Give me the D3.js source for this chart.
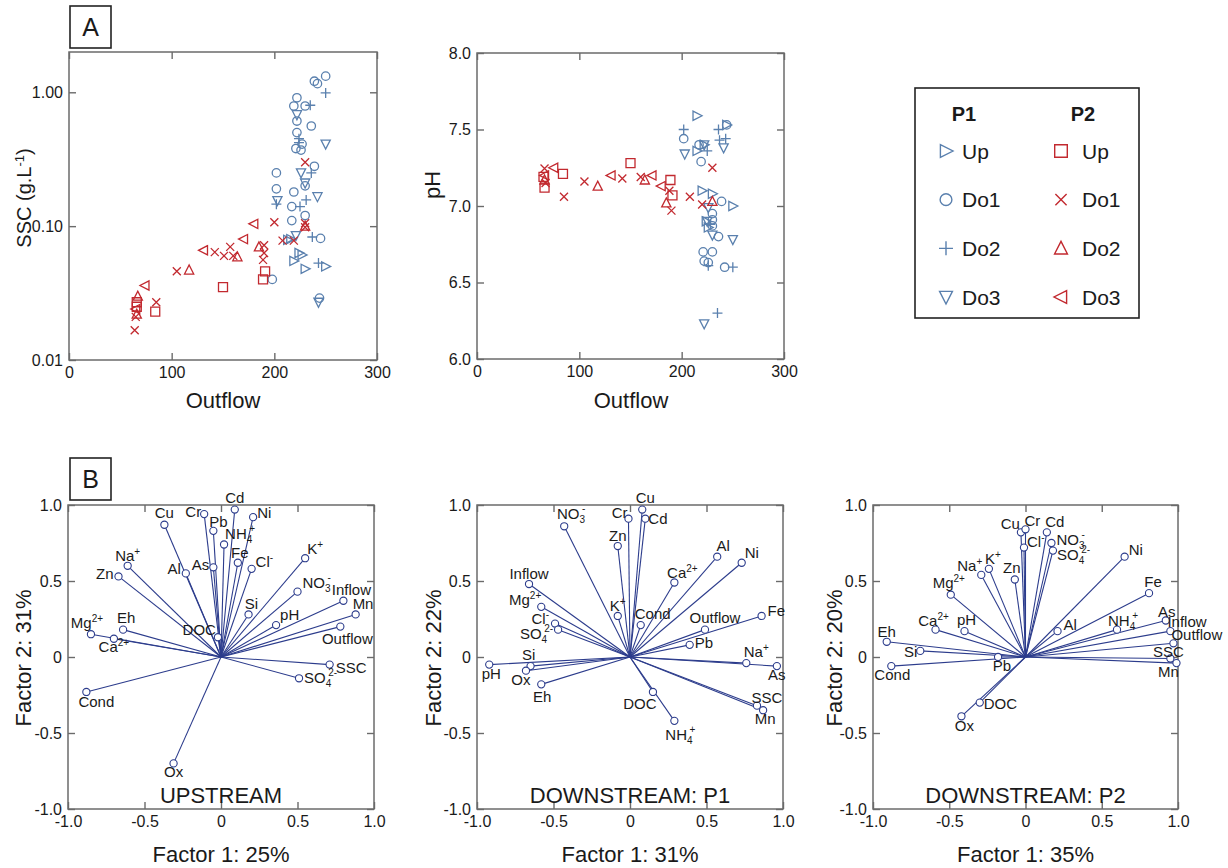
<!DOCTYPE html>
<html><head><meta charset="utf-8">
<script src="https://cdn.jsdelivr.net/npm/d3@7"></script>
<style>
body{margin:0;background:#fff}
svg{display:block}
text{font-family:"Liberation Sans",Arial,Helvetica,sans-serif;fill:#1a1a1a}
</style>
</head><body>
<svg id="chart" width="1228" height="868"></svg>
<script>
// ---------------- DATA ----------------
// Panel A, left: [Outflow, SSC (g/L)]
const p1UpSSC  = [[213,0.079],[216,0.080],[224,0.063],[227,0.061],[219,0.055],[230,0.048],[250,0.050]];
const p1Do1SSC = [[250,1.32],[239,1.21],[242,1.16],[222,0.91],[219,0.79],[230,0.79],[222,0.61],[236,0.56],[222,0.50],[221,0.38],[226,0.37],[227,0.41],[239,0.28],[202,0.25],[202,0.19],[219,0.18],[230,0.20],[217,0.14],[217,0.11],[230,0.12],[245,0.081],[198,0.040],[244,0.029]];
const p1Do2SSC = [[250,0.99],[235,0.80],[224,0.45],[224,0.42],[236,0.25],[231,0.157],[225,0.14],[202,0.146],[237,0.083],[243,0.053]];
const p1Do3SSC = [[222,0.68],[250,0.41],[226,0.25],[230,0.21],[242,0.166],[203,0.155],[221,0.085],[243,0.027]];
const p2UpSSC  = [[191,0.046],[189,0.040],[150,0.035],[84,0.023],[66,0.025],[66,0.027]];
const p2Do1SSC = [[200,0.107],[230,0.105],[230,0.098],[208,0.078],[219,0.078],[157,0.070],[142,0.064],[151,0.060],[160,0.060],[190,0.072],[190,0.063],[189,0.056],[105,0.046],[85,0.027],[65,0.021],[64,0.0167],[230,0.30]];
const p2Do2SSC = [[117,0.047],[164,0.059],[185,0.070],[67,0.030],[230,0.100],[66,0.022]];
const p2Do3SSC = [[180,0.104],[170,0.080],[131,0.066],[74,0.036],[65,0.024]];

// Panel A, middle: [Outflow, pH]
const p1UpPH  = [[215,7.59],[244,7.53],[215,7.36],[222,7.40],[220,7.10],[230,7.08],[250,7.00],[224,6.90],[226,6.86]];
const p1Do1PH = [[202,7.44],[217,7.40],[219,7.29],[244,7.53],[239,7.03],[230,6.95],[230,6.87],[236,6.80],[221,6.70],[230,6.70],[222,6.64],[226,6.63],[242,6.60],[230,6.91]];
const p1Do2PH = [[202,7.50],[236,7.50],[237,7.43],[243,7.44],[225,7.36],[250,6.60],[235,6.30],[226,6.61],[228,6.88]];
const p1Do3PH = [[203,7.34],[241,7.38],[222,7.40],[226,6.99],[225,6.90],[230,6.81],[250,6.78],[222,6.23]];
const p2UpPH  = [[84,7.21],[66,7.12],[150,7.28],[189,7.17],[191,7.07],[65,7.19]];
const p2Do1PH = [[66,7.245],[85,7.06],[105,7.16],[142,7.18],[160,7.19],[188,7.10],[190,6.97],[208,7.06],[220,7.01],[230,7.25],[67,7.15]];
const p2Do2PH = [[118,7.13],[164,7.17],[185,7.02],[230,7.03],[66,7.17]];
const p2Do3PH = [[75,7.25],[131,7.20],[171,7.20],[180,7.13],[66,7.20]];

// Panel B: factor loadings (name markup: _sub ^sup)
const upVars = ["Cd","Ni","Cr","Pb","NH_4^+","Cu","As","Fe","Cl^-","Al","Na^+","Zn","K^+","NO_3^-","Inflow","Mn","Outflow","Si","pH","DOC","Eh","Mg^2+","Ca^2+","SSC","SO_4^2-","Cond","Ox"];
const upF1   = [0.09,0.21,-0.11,-0.05,0.02,-0.37,-0.05,0.11,0.20,-0.23,-0.61,-0.67,0.55,0.50,0.80,0.88,0.78,0.18,0.36,-0.02,-0.64,-0.85,-0.70,0.71,0.51,-0.88,-0.31];
const upF2   = [0.97,0.92,0.94,0.83,0.74,0.87,0.59,0.62,0.58,0.55,0.60,0.53,0.65,0.43,0.37,0.28,0.20,0.28,0.21,0.13,0.18,0.15,0.12,-0.05,-0.14,-0.23,-0.70];

const p1Vars = ["Cu","Cr","Cd","NO_3^-","Zn","Al","Ni","Ca^2+","Inflow","Mg^2+","K^+","Fe","Cond","Cl^-","SO_4^2-","Outflow","Pb","Na^+","As","pH","Si","Ox","Eh","DOC","SSC","Mn","NH_4^+"];
const p1F1   = [0.08,-0.01,0.10,-0.43,-0.08,0.57,0.73,0.29,-0.66,-0.58,-0.08,0.86,0.07,-0.49,-0.47,0.49,0.39,0.76,0.96,-0.92,-0.65,-0.68,-0.58,0.15,0.83,0.87,0.29];
const p1F2   = [0.97,0.91,0.91,0.86,0.73,0.66,0.62,0.49,0.48,0.33,0.27,0.27,0.21,0.22,0.18,0.18,0.08,-0.04,-0.06,-0.05,-0.06,-0.09,-0.18,-0.23,-0.32,-0.35,-0.42];

const p2Vars = ["Cu","Cr","Cd","Cl^-","NO_3^-","SO_4^2-","Ni","Na^+","K^+","Zn","Mg^2+","Fe","As","Ca^2+","pH","Al","NH_4^+","Inflow","Outflow","Eh","Si","SSC","Mn","Pb","Cond","DOC","Ox"];
const p2F1   = [-0.03,0.00,0.14,-0.01,0.17,0.18,0.65,-0.29,-0.24,-0.07,-0.49,0.81,0.92,-0.59,-0.40,0.21,0.60,0.95,0.97,-0.91,-0.69,0.95,0.99,-0.18,-0.88,-0.30,-0.42];
const p2F2   = [0.82,0.84,0.82,0.72,0.75,0.70,0.66,0.54,0.58,0.51,0.41,0.42,0.24,0.18,0.17,0.17,0.18,0.17,0.09,0.10,0.04,-0.01,-0.04,0.00,-0.06,-0.30,-0.39];

// Ticks
const outflowTicks = [0,100,200,300];
const sscTicks = [0.01,0.1,1];
const sscTickLabels = ["0.01","0.10","1.00"];
const phTicks = [6,6.5,7,7.5,8];
const phTickLabels = ["6.0","6.5","7.0","7.5","8.0"];
const factorTicks = [-1,-0.5,0,0.5,1];
const factorTickLabels = ["-1.0","-0.5","0","0.5","1.0"];

// ---------------- LAYOUT (label placement: side,dx,dy) ----------------
const upPos = ["n","e,-2,-4","w,3,-2","ne,-5,2","ne","n","w,2,-2","n,2,2","e,-2,-7","w,1,-4","n,0,2","w,1,-2","ne,1,2","ne,4,2","n,8,1","ne,-4,1","s,7,0","n,3,2","ne,3,1","w,4,-7","n,3,0","n,-4,1","s,0,-4","e,0,3","e,-1,0","s,10,-2","s,0,-3"];
const p1Pos = ["n,3,0","nw,0,5","e,-3,0","n,7,0","n,0,2","n,6,1","ne,2,1","n,8,2","n,0,2","nw,1,4","n,0,2","e,0,-5","ne,-7,0","w,0,-5","w,1,4","n,10,0","e,-1,-2","n,10,1","s,0,-3","s,2,-3","n,-2,1","s,-5,-3","s,1,1","s,-13,0","n,10,4","s,2,-3","s,6,2"];
const p2Pos = ["nw,0,3","ne,-2,3","n,8,2","e,-3,-6","e,-1,-3","e,-2,4","e,-2,-7","nw,2,2","n,4,2","n,-3,1","n,-2,0","n,4,1","n,1,3","n,-2,3","n,2,1","e,0,-6","n,6,3","ne,-4,2","ne,-3,3","n,0,2","w,3,1","n,-2,5","s,-8,-3","s,4,-3","s,1,-3","e,-2,1","s,3,-2"];

// ---------------- STYLE ----------------
const BLUE = "#5a80ae", RED = "#c2292f", NAVY = "#2c3c8c", AXC = "#6b6b6b";
const svg = d3.select("#chart");

const symPaths = {
  triRight: s => `M${-4*s},${-4.6*s}L${5*s},0L${-4*s},${4.6*s}Z`,
  triLeft:  s => `M${4*s},${-4.6*s}L${-5*s},0L${4*s},${4.6*s}Z`,
  triDown:  s => `M${-4.6*s},${-4*s}L${4.6*s},${-4*s}L0,${5*s}Z`,
  triUp:    s => `M${-4.6*s},${4*s}L${4.6*s},${4*s}L0,${-5*s}Z`,
  circle:   s => d3.symbol(d3.symbolCircle, Math.PI*Math.pow(4.2*s,2))(),
  plus:     s => `M${-5*s},0H${5*s}M0,${-5*s}V${5*s}`,
  cross:    s => `M${-4*s},${-4*s}L${4*s},${4*s}M${4*s},${-4*s}L${-4*s},${4*s}`,
  square:   s => `M${-4.5*s},${-4.5*s}h${9*s}v${9*s}h${-9*s}Z`
};

const sscSeries = [
  {sym:"triRight",color:BLUE,data:p1UpSSC},{sym:"circle",color:BLUE,data:p1Do1SSC},
  {sym:"plus",color:BLUE,data:p1Do2SSC},{sym:"triDown",color:BLUE,data:p1Do3SSC},
  {sym:"square",color:RED,data:p2UpSSC},{sym:"cross",color:RED,data:p2Do1SSC},
  {sym:"triUp",color:RED,data:p2Do2SSC},{sym:"triLeft",color:RED,data:p2Do3SSC}];
const phSeries = [
  {sym:"triRight",color:BLUE,data:p1UpPH},{sym:"circle",color:BLUE,data:p1Do1PH},
  {sym:"plus",color:BLUE,data:p1Do2PH},{sym:"triDown",color:BLUE,data:p1Do3PH},
  {sym:"square",color:RED,data:p2UpPH},{sym:"cross",color:RED,data:p2Do1PH},
  {sym:"triUp",color:RED,data:p2Do2PH},{sym:"triLeft",color:RED,data:p2Do3PH}];

function axesFrame(x, y, xTicks, xLabels, yTicks, yLabels){
  const [l,r] = x.range(); const [b,t] = y.range();
  const g = svg.append("g");
  const fmt = arr => (d,i) => arr[i];
  g.append("g").attr("transform",`translate(0,${b})`)
    .call(d3.axisBottom(x).tickValues(xTicks).tickFormat(fmt(xLabels)).tickSize(-7).tickPadding(7));
  g.append("g").attr("transform",`translate(${l},0)`)
    .call(d3.axisLeft(y).tickValues(yTicks).tickFormat(fmt(yLabels)).tickSize(-7).tickPadding(6));
  g.append("g").attr("transform",`translate(0,${t})`)
    .call(d3.axisTop(x).tickValues(xTicks).tickFormat("").tickSize(-7));
  g.append("g").attr("transform",`translate(${r},0)`)
    .call(d3.axisRight(y).tickValues(yTicks).tickFormat("").tickSize(-7));
  g.selectAll(".domain").remove();
  g.selectAll(".tick line").attr("stroke",AXC).attr("stroke-width",1.4);
  g.selectAll(".tick text").attr("font-size",16).attr("fill","#1a1a1a")
    .attr("font-family","Liberation Sans, Arial, sans-serif");
  g.append("rect").attr("x",l).attr("y",t).attr("width",r-l).attr("height",b-t)
    .attr("fill","none").attr("stroke",AXC).attr("stroke-width",1.5);
}

function scatter(x, y, series){
  const g = svg.append("g");
  series.forEach(s => {
    g.selectAll(null).data(s.data).join("path")
      .attr("d", symPaths[s.sym](1))
      .attr("transform", d => `translate(${x(d[0])},${y(d[1])})`)
      .attr("fill","none").attr("stroke",s.color).attr("stroke-width",1.3);
  });
}

// chemistry-style label: sub and sup stacked
function richText(sel, spec, subSize){
  const m = spec.match(/^([^_^]+)(?:_(\d+))?(?:\^(.+))?$/);
  sel.append("tspan").text(m[1]);
  if(m[2]) sel.append("tspan").attr("font-size",subSize).attr("dy",4).text(m[2]);
  if(m[3]) {
    const t = sel.append("tspan").attr("font-size",subSize).text(m[3]);
    if(m[2]) t.attr("dx",-subSize*0.3).attr("dy",-11);
    else t.attr("dy",-6);
  }
}

const SIDE = {n:["middle",0,-7], s:["middle",0,17], e:["start",6,5], w:["end",-6,5],
              ne:["start",1,-6], nw:["end",-1,-6], se:["start",1,16], sw:["end",2,16]};

function biplot(x, y, vars, f1, f2, pos){
  const g = svg.append("g");
  const ox = x(0), oy = y(0);
  vars.forEach((v,i) => {
    g.append("line").attr("x1",ox).attr("y1",oy).attr("x2",x(f1[i])).attr("y2",y(f2[i]))
      .attr("stroke",NAVY).attr("stroke-width",1.1);
  });
  vars.forEach((v,i) => {
    g.append("circle").attr("cx",x(f1[i])).attr("cy",y(f2[i])).attr("r",3.6)
      .attr("fill","#fff").attr("stroke",NAVY).attr("stroke-width",1.1);
  });
  vars.forEach((v,i) => {
    const parts = pos[i].split(",");
    const p = SIDE[parts[0]];
    const dx = p[1] + (+parts[1]||0), dy = p[2] + (+parts[2]||0);
    const t = g.append("text").attr("x",x(f1[i])+dx).attr("y",y(f2[i])+dy)
      .attr("text-anchor",p[0]).attr("font-size",15);
    richText(t, v, 10);
  });
}

function label(x, y, txt, size, opts={}){
  const t = svg.append("text").attr("x",x).attr("y",y).attr("font-size",size)
    .attr("text-anchor",opts.anchor||"middle");
  if(opts.rotate) t.attr("transform",`rotate(-90,${x},${y})`);
  if(opts.weight) t.attr("font-weight",opts.weight);
  t.text(txt);
  return t;
}

// ---------------- PANEL A ----------------
const xA1 = d3.scaleLinear([0,300],[69,377]);
const yA1 = d3.scaleLog([0.01,2],[360,52]);
axesFrame(xA1, yA1, outflowTicks, outflowTicks.map(String), sscTicks, sscTickLabels);
scatter(xA1, yA1, sscSeries);

const xA2 = d3.scaleLinear([0,300],[477,784]);
const yA2 = d3.scaleLinear([6,8],[359,53]);
axesFrame(xA2, yA2, outflowTicks, outflowTicks.map(String), phTicks, phTickLabels);
scatter(xA2, yA2, phSeries);

label(223,408,"Outflow",22);
label(631,408,"Outflow",22);
{
  const t = svg.append("text").attr("x",31).attr("y",198).attr("font-size",20)
    .attr("text-anchor","middle").attr("transform","rotate(-90,31,198)");
  t.append("tspan").text("SSC (g.L");
  t.append("tspan").attr("font-size",13).attr("dy",-7).text("-1");
  t.append("tspan").attr("dy",7).text(")");
}
label(440,185,"pH",22,{rotate:true});

// Panel letter boxes
svg.append("rect").attr("x",70).attr("y",6).attr("width",41).attr("height",42)
  .attr("fill","#fff").attr("stroke","#222").attr("stroke-width",1.6);
label(90.5,36,"A",25);
svg.append("rect").attr("x",70).attr("y",458).attr("width",41).attr("height",42)
  .attr("fill","#fff").attr("stroke","#222").attr("stroke-width",1.6);
label(90.5,488,"B",25);

// Legend
const legendRows = ["Up","Do1","Do2","Do3"];
const legP1Syms = ["triRight","circle","plus","triDown"];
const legP2Syms = ["square","cross","triUp","triLeft"];
svg.append("rect").attr("x",915).attr("y",88).attr("width",224).attr("height",230)
  .attr("fill","#fff").attr("stroke","#222").attr("stroke-width",1.6);
label(964,121,"P1",20,{weight:"bold"});
label(1083,121,"P2",20,{weight:"bold"});
const rowY = d3.scalePoint(legendRows,[151,297]);
legendRows.forEach((r,i) => {
  svg.append("path").attr("d",symPaths[legP1Syms[i]](1.4))
    .attr("transform",`translate(946,${rowY(r)})`).attr("fill","none").attr("stroke",BLUE).attr("stroke-width",1.4);
  label(962,rowY(r)+7.5,r,21,{anchor:"start"});
  svg.append("path").attr("d",symPaths[legP2Syms[i]](1.4))
    .attr("transform",`translate(1061,${rowY(r)})`).attr("fill","none").attr("stroke",RED).attr("stroke-width",1.4);
  label(1082,rowY(r)+7.5,r,21,{anchor:"start"});
});

// ---------------- PANEL B ----------------
const yB = d3.scaleLinear([-1,1],[809,505]);
const xB1 = d3.scaleLinear([-1,1],[68,374]);
const xB2 = d3.scaleLinear([-1,1],[477,783]);
const xB3 = d3.scaleLinear([-1,1],[873,1178]);

[[xB1,upVars,upF1,upF2,upPos,"UPSTREAM","Factor 1: 25%","Factor 2: 31%",31],
 [xB2,p1Vars,p1F1,p1F2,p1Pos,"DOWNSTREAM: P1","Factor 1: 31%","Factor 2: 22%",441],
 [xB3,p2Vars,p2F1,p2F2,p2Pos,"DOWNSTREAM: P2","Factor 1: 35%","Factor 2: 20%",842]
].forEach(([x,v,f1,f2,pos,title,xt,yt,yx]) => {
  axesFrame(x, yB, factorTicks, factorTickLabels, factorTicks, factorTickLabels);
  biplot(x, yB, v, f1, f2, pos);
  const cx = (x.range()[0]+x.range()[1])/2;
  label(cx,803,title,22);
  label(cx,862,xt,22);
  label(yx,658,yt,22,{rotate:true});
});
</script>
</body></html>
